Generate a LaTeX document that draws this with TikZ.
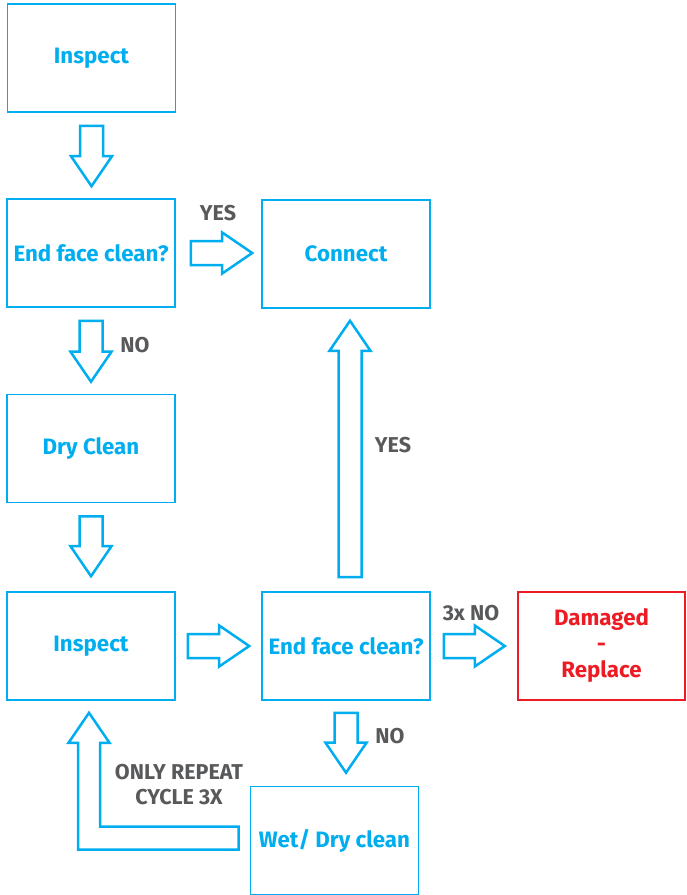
\documentclass[tikz,border=0pt]{standalone}
\usepackage{fontspec}
\setmainfont{Fira Sans}
\usetikzlibrary{calc}
\definecolor{cy}{HTML}{00AEEF}
\definecolor{gr}{HTML}{58595B}
\definecolor{rd}{HTML}{ED1C24}
\tikzset{
  box/.style={draw=cy, line width=1.6pt, minimum width=168pt, minimum height=108pt, text=cy,
    font=\bfseries\fontsize{22.3}{26}\selectfont, align=center, inner sep=0pt},
  redbox/.style={box, draw=rd, text=rd, line width=2.4pt},
  lab/.style={text=gr, font=\bfseries\fontsize{21.5}{25}\selectfont, align=center, inner sep=0pt},
  blk/.style={draw=cy, line width=2.5pt, line join=miter, fill=white}
}
\newcommand\blkdown[2]{\draw[blk] let \p1=#1, \p2=#2 in
  (\x1-11.5pt,\y1) -- (\x1+11.5pt,\y1) -- (\x1+11.5pt,\y2+30pt) -- (\x1+20.5pt,\y2+30pt)
  -- (\x1,\y2) -- (\x1-20.5pt,\y2+30pt) -- (\x1-11.5pt,\y2+30pt) -- cycle;}
\newcommand\blkup[2]{\draw[blk] let \p1=#1, \p2=#2 in
  (\x1-11.5pt,\y1) -- (\x1+11.5pt,\y1) -- (\x1+11.5pt,\y2-30pt) -- (\x1+20.5pt,\y2-30pt)
  -- (\x1,\y2) -- (\x1-20.5pt,\y2-30pt) -- (\x1-11.5pt,\y2-30pt) -- cycle;}
\newcommand\blkright[2]{\draw[blk] let \p1=#1, \p2=#2 in
  (\x1,\y1+12pt) -- (\x2-30pt,\y1+12pt) -- (\x2-30pt,\y1+20.5pt) -- (\x2,\y1)
  -- (\x2-30pt,\y1-20.5pt) -- (\x2-30pt,\y1-12pt) -- (\x1,\y1-12pt) -- cycle;}
\begin{document}
\begin{tikzpicture}[x=1pt,y=-1pt]
\useasboundingbox (0,0) rectangle (686,895);
\node[box] (i1) at (91.5,58) {Inspect};
\node[box] (e1) at (91,253) {End face clean?};
\node[box] (c)  at (346,254) {Connect};
\node[box] (d)  at (91,448.5) {Dry Clean};
\node[box] (i2) at (91,646) {Inspect};
\node[box] (e2) at (346,646) {End face clean?};
\node[redbox, minimum width=167pt] (dm) at (601.5,646) {Damaged\\-\\Replace};
\node[box] (w)  at (334.5,840.5) {Wet/ Dry clean};

\blkdown{($(i1.south)+(0,13)$)}{($(e1.north)+(0,-12)$)}
\blkdown{($(e1.south)+(0,13)$)}{($(d.north)+(0,-12)$)}
\blkdown{($(d.south)+(0,13)$)}{($(i2.north)+(0,-15)$)}
\blkright{($(e1.east)+(15,0)$)}{($(c.west)+(-9,0)$)}
\blkright{($(i2.east)+(12,0)$)}{($(e2.west)+(-12,0)$)}
\blkright{($(e2.east)+(13,0)$)}{($(dm.west)+(-12,0)$)}
\blkup{($(e2.north)+(4,-14)$)}{($(c.south)+(4,12)$)}
\blkdown{($(e2.south)+(0,12)$)}{($(w.north)+(12,-13)$)}
\draw[blk] let \p1=($(w.west)+(-11,-2.5)$), \p2=($(i2.south)+(-2,12)$) in
  (\x1,\y1-11.5pt) -- (\x2-11pt,\y1-11.5pt) -- (\x2-11pt,\y2-30pt) -- (\x2-20.5pt,\y2-30pt)
  -- (\x2,\y2) -- (\x2+20.5pt,\y2-30pt) -- (\x2+11pt,\y2-30pt) -- (\x2+11pt,\y1+11.5pt)
  -- (\x1,\y1+11.5pt) -- cycle;

\node[lab] (l1) at (218,213) {YES};
\node[lab] (l2) at (135,345) {NO};
\node[lab] (l3) at (393,445) {YES};
\node[lab] (l4) at (471,613) {3x NO};
\node[lab] (l5) at (390,736) {NO};
\node[lab] (l6) at (179,784.5) {ONLY REPEAT\\CYCLE 3X};
\end{tikzpicture}
\end{document}
